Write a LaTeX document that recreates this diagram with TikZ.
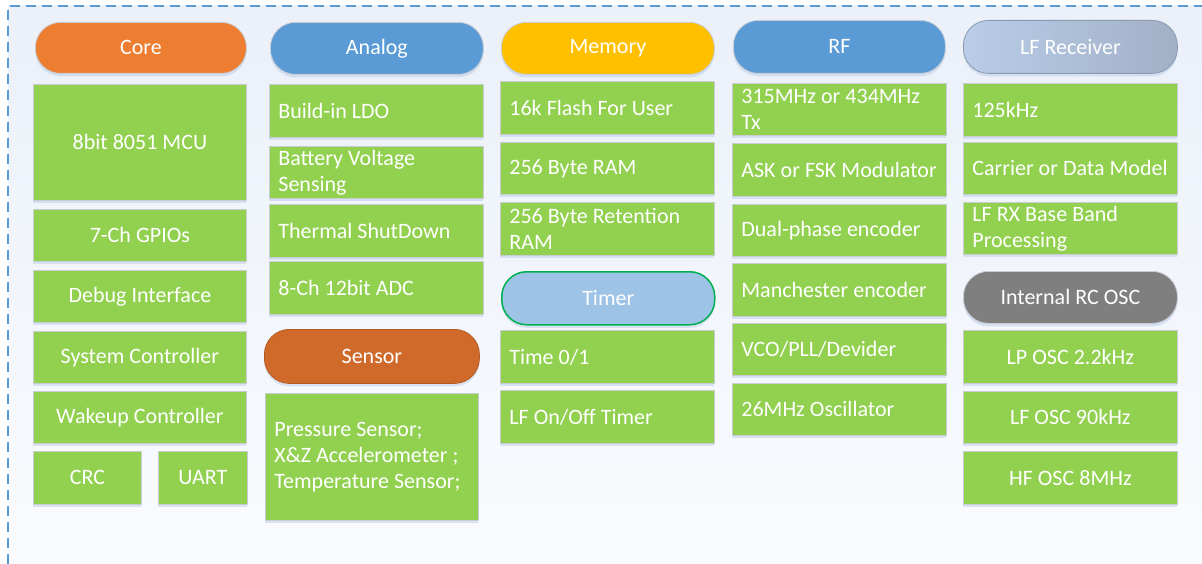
\documentclass[tikz,border=0pt]{standalone}
\usepackage{fontspec}
\setmainfont{Carlito}
\usetikzlibrary{shadows}
\definecolor{bgreen}{HTML}{92D050}
\definecolor{bborder}{HTML}{C8CDD4}
\definecolor{corec}{HTML}{ED7D31}
\definecolor{bluec}{HTML}{5B9BD5}
\definecolor{memc}{HTML}{FFC000}
\definecolor{timerc}{HTML}{9DC3E6}
\definecolor{timerb}{HTML}{00B050}
\definecolor{sensc}{HTML}{D06A2B}
\definecolor{sensb}{HTML}{B45A22}
\definecolor{rcc}{HTML}{7F7F7F}
\definecolor{lfa}{HTML}{B9CDE8}
\definecolor{lfb}{HTML}{A2B0C7}
\definecolor{lfbd}{HTML}{8A9AB2}
\definecolor{frame}{HTML}{5B9BD5}
\definecolor{shad}{HTML}{B4C7E7}
\definecolor{bgtop}{HTML}{EBF0F9}
\definecolor{bgbot}{HTML}{F9FBFE}
\begin{document}
\begin{tikzpicture}[x=1pt,y=-1pt,
  txt/.style={text=white, font=\fontsize{22}{26}\selectfont,
    execute at begin node={\spaceskip=0.23em plus 0.05em minus 0.05em\relax\hyphenpenalty=10000\exhyphenpenalty=10000\relax}},
  gbox/.style={txt, fill=bgreen, draw=bborder, line width=0.8pt, anchor=north west,
    inner ysep=0pt, drop shadow={shadow xshift=0pt, shadow yshift=-3pt, fill=shad, opacity=0.45}},
  cbox/.style={gbox, inner xsep=0pt, align=center, minimum width=#1},
  lbox/.style={gbox, inner xsep=9pt, text width=#1, align=left},
  pill/.style={txt, anchor=north west, rounded corners=25pt, inner sep=0pt, align=center,
    draw=bborder, line width=0.8pt,
    drop shadow={shadow xshift=0pt, shadow yshift=-3pt, fill=shad, opacity=0.45}},
]
\useasboundingbox (0,0) rectangle (1202,564);
\shade[top color=bgtop, bottom color=bgbot] (8,6) rectangle (1202,564);
\draw[frame, line width=1.5pt, dash pattern=on 10pt off 6pt] (8,564) -- (8,6) -- (1202,6);

% Column 1: Core
\node[pill, fill=corec, minimum width=211, minimum height=51] (core) at (35,22) {Core};
\node[cbox=213, minimum height=116] (mcu) at (33,84) {8bit 8051 MCU};
\node[cbox=213, minimum height=52] (gpio) at (33,209) {7-Ch GPIOs};
\node[cbox=213, minimum height=52] (debug) at (33,270) {Debug Interface};
\node[cbox=213, minimum height=52] (sysc) at (33,331) {System Controller};
\node[cbox=213, minimum height=52] (wake) at (33,391) {Wakeup Controller};
\node[cbox=108, minimum height=53] (crc) at (33,451) {CRC};
\node[cbox=89, minimum height=53] (uart) at (158,451) {UART};

% Column 2: Analog
\node[pill, fill=bluec, minimum width=213, minimum height=52] (analog) at (270,22) {Analog};
\node[lbox=196pt, minimum height=53] (ldo) at (269,84) {Build-in LDO};
\node[lbox=196pt, minimum height=52] (batt) at (269,146) {Battery Voltage\\Sensing};
\node[lbox=196pt, minimum height=53] (therm) at (269,204) {Thermal ShutDown};
\node[lbox=196pt, minimum height=53] (adc) at (269,261) {8-Ch 12bit ADC};
\node[pill, fill=sensc, draw=sensb, minimum width=215, minimum height=54] (sensor) at (264,329) {Sensor};
\node[lbox=195pt, minimum height=127] (sens) at (265,393) {Pressure Sensor;\\X\&Z Accelerometer ;\\Temperature Sensor;};

% Column 3: Memory
\node[pill, fill=memc, minimum width=213, minimum height=52] (memory) at (501,22) {Memory};
\node[lbox=196pt, minimum height=53] (flash) at (500,81) {16k Flash For User};
\node[lbox=196pt, minimum height=52] (ram) at (500,142) {256 Byte RAM};
\node[lbox=196pt, minimum height=53] (ret) at (500,202) {256 Byte Retention\\RAM};
\node[pill, fill=timerc, draw=timerb, line width=1.5pt, minimum width=213, minimum height=53] (timer) at (501,271) {Timer};
\node[lbox=196pt, minimum height=53] (t01) at (500,330) {Time 0/1};
\node[lbox=196pt, minimum height=53] (lfoff) at (500,390) {LF On/Off Timer};

% Column 4: RF
\node[pill, fill=bluec, minimum width=212, minimum height=53] (rf) at (733,20) {RF};
\node[lbox=196pt, minimum height=52] (tx) at (732,83) {315MHz or 434MHz\\Tx};
\node[lbox=196pt, minimum height=53] (ask) at (732,143) {ASK or FSK Modulator};
\node[lbox=196pt, minimum height=52] (dual) at (732,204) {Dual-phase encoder};
\node[lbox=196pt, minimum height=53] (manch) at (732,263) {Manchester encoder};
\node[lbox=196pt, minimum height=52] (vco) at (732,323) {VCO/PLL/Devider};
\node[lbox=196pt, minimum height=52] (osc) at (732,383) {26MHz Oscillator};

% Column 5: LF Receiver
\node[pill, left color=lfa, right color=lfb, draw=lfbd, minimum width=214, minimum height=53] (lfr) at (963,20) {LF Receiver};
\node[lbox=196pt, minimum height=53] (k125) at (963,83) {125kHz};
\node[lbox=196pt, minimum height=52] (carrier) at (963,142) {Carrier or Data Model};
\node[lbox=196pt, minimum height=52] (lfrx) at (963,202) {LF RX Base Band\\Processing};
\node[pill, fill=rcc, minimum width=214, minimum height=52] (rc) at (963,271) {Internal RC OSC};
\node[cbox=214, minimum height=53] (lp) at (963,330) {LP OSC 2.2kHz};
\node[cbox=214, minimum height=52] (lfosc) at (963,391) {LF OSC 90kHz};
\node[cbox=214, minimum height=53] (hf) at (963,451) {HF OSC 8MHz};
\end{tikzpicture}
\end{document}
